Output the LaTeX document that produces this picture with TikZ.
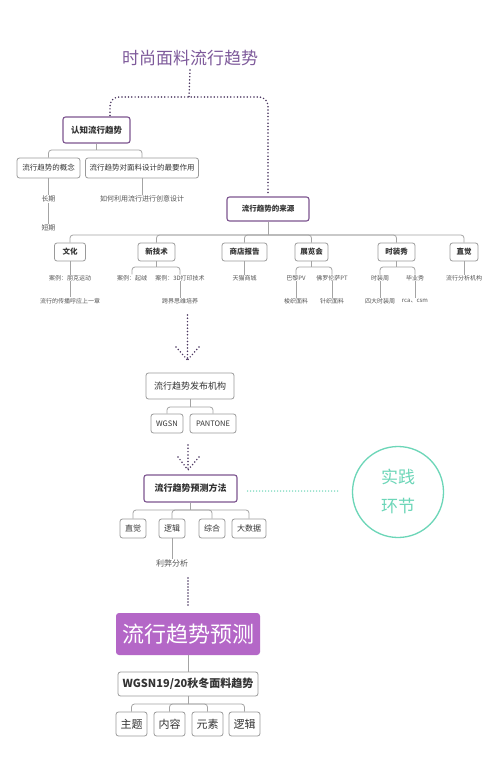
\documentclass[tikz,border=0pt]{standalone}
\usepackage{fontspec}
\setmainfont{Noto Sans CJK SC}
\definecolor{pur}{HTML}{7D5590}
\definecolor{titlec}{HTML}{7E5A9B}
\definecolor{dotc}{HTML}{4A3560}
\definecolor{tealc}{HTML}{6CD6B8}
\definecolor{boxc}{HTML}{9A9A9A}
\definecolor{linec}{HTML}{A4A4A4}
\definecolor{txt}{HTML}{333333}
\definecolor{subt}{HTML}{555555}
\definecolor{bigc}{HTML}{B467C7}
\tikzset{
 gbox/.style={draw=boxc, line width=0.8pt, rounded corners=2.5pt, inner sep=0pt, text=txt, font=\fontsize{7.5}{9}\selectfont},
 pbox/.style={gbox, draw=pur, line width=1.1pt},
 lbl/.style={inner sep=0.5pt, text=subt, font=\fontsize{6}{7}\selectfont},
 conn/.style={draw=linec, line width=0.8pt, rounded corners=3pt},
 dotl/.style={draw=dotc, line width=1.7pt, line cap=round, dash pattern=on 0pt off 3.3pt},
 tdot/.style={draw=tealc, line width=1.5pt, line cap=round, dash pattern=on 0pt off 3pt},
}
\begin{document}
\begin{tikzpicture}[x=1pt,y=-1pt]
\fill[white] (0,0) rectangle (497,763);
\useasboundingbox (0,0) rectangle (497,763);

% title
\node[text=titlec, font=\fontsize{17}{20}\selectfont, inner sep=0pt] (title) at (190,58) {时尚面料流行趋势};
\coordinate (j) at (189,97);

% first level
\node[pbox, minimum width=67pt, minimum height=26pt, font=\bfseries\fontsize{8.5}{10}\selectfont] (rz) at (96.5,130) {认知流行趋势};
\node[pbox, minimum width=82pt, minimum height=24pt, font=\bfseries\fontsize{7.5}{9}\selectfont] (src) at (268,209) {流行趋势的来源};

\draw[dotl] ([yshift=-4pt]title.south) -- (j);
\draw[dotl, rounded corners=9pt] ([xshift=13.5pt,yshift=1pt]rz.north) |- (j) -| ([yshift=1pt]src.north);

% 认知流行趋势 branch
\node[gbox, minimum width=63pt, minimum height=20pt] (gn) at (48.5,168) {流行趋势的概念};
\node[gbox, minimum width=113pt, minimum height=20pt] (zy) at (142,168) {流行趋势对面料设计的最要作用};
\draw[conn] (rz.south) -- (rz.south |- 0,150);
\draw[conn] (rz.south |- 0,150) -| (gn.north);
\draw[conn] (rz.south |- 0,150) -| (zy.north);

\node[lbl, font=\fontsize{7}{8}\selectfont] (cq) at (48.5,199) {长期};
\node[lbl, font=\fontsize{7}{8}\selectfont] (dq) at (48.5,228) {短期};
\node[lbl, font=\fontsize{7}{8}\selectfont] (ry) at (142,199) {如何利用流行进行创意设计};
\draw[conn] (gn.south) -- (cq.north);
\draw[conn] (cq.south) -- (dq.north);
\draw[conn] (zy.south) -- (ry.north);

% sources row
\tikzset{sbox/.style={gbox, minimum height=18pt, font=\bfseries\fontsize{7.5}{9}\selectfont}}
\node[sbox, minimum width=31pt] (wh) at (70,252) {文化};
\node[sbox, minimum width=37pt] (xjs) at (156.5,252) {新技术};
\node[sbox, minimum width=45pt] (sd) at (244.5,252) {商店报告};
\node[sbox, minimum width=33pt] (zl) at (311.5,252) {展览会};
\node[sbox, minimum width=37pt] (sz) at (396.5,252) {时装秀};
\node[sbox, minimum width=28pt] (zj) at (464,252) {直觉};
\draw[conn] (src.south) -- (src.south |- 0,235);
\foreach \c in {wh,xjs,sd,zl,sz,zj}{
  \draw[conn] (src.south |- 0,235) -| (\c.north);
}

% sub items
\node[lbl] (a1) at (70,278) {案例：朋克运动};
\node[lbl] (a2) at (70,301) {流行的传播呼应上一章};
\draw[conn] (wh.south) -- (a1.north);
\draw[conn] (a1.south) -- (a2.north);

\node[lbl] (b1) at (132,278) {案例：起绒};
\node[lbl] (b2) at (180,278) {案例：3D打印技术};
\node[lbl] (b3) at (180,301) {跨界思维培养};
\draw[conn] (xjs.south) -- (xjs.south |- 0,267);
\draw[conn] (xjs.south |- 0,267) -| (b1.north);
\draw[conn] (xjs.south |- 0,267) -| (b2.north);
\draw[conn] (b2.south) -- (b3.north);

\node[lbl] (c1) at (244.5,278) {天猫商城};
\draw[conn] (sd.south) -- (c1.north);

\node[lbl] (d1) at (296,278) {巴黎PV};
\node[lbl] (d2) at (332,278) {佛罗伦萨PT};
\node[lbl] (d3) at (296,301) {梭织面料};
\node[lbl] (d4) at (332,301) {针织面料};
\draw[conn] (zl.south) -- (zl.south |- 0,267);
\draw[conn] (zl.south |- 0,267) -| (d1.north);
\draw[conn] (zl.south |- 0,267) -| (d2.north);
\draw[conn] (d1.south) -- (d3.north);
\draw[conn] (d2.south) -- (d4.north);

\node[lbl] (e1) at (380,278) {时装周};
\node[lbl] (e2) at (415,278) {毕业秀};
\node[lbl] (e3) at (380,301) {四大时装周};
\node[lbl] (e4) at (415,301) {rca、csm};
\draw[conn] (sz.south) -- (sz.south |- 0,267);
\draw[conn] (sz.south |- 0,267) -| (e1.north);
\draw[conn] (sz.south |- 0,267) -| (e2.north);
\draw[conn] (e1.south) -- (e3.north);
\draw[conn] (e2.south) -- (e4.north);

\node[lbl] (f1) at (464,278) {流行分析机构};
\draw[conn] (zj.south) -- (f1.north);

% arrow 1
\coordinate (p1) at (187.5,315);
\coordinate (p2) at (187.5,360);
\coordinate (h1) at (176,347);
\coordinate (h2) at (199,347);
\draw[dotl] (p1) -- (p2);
\draw[dotl] (h1) -- (p2);
\draw[dotl] (h2) -- (p2);

% publishers
\node[gbox, minimum width=88pt, minimum height=26pt, font=\fontsize{9}{11}\selectfont] (fb) at (190,386) {流行趋势发布机构};
\node[gbox, minimum width=32pt, minimum height=19pt, font=\fontsize{7.5}{9}\selectfont] (wgsn) at (167,423.5) {WGSN};
\node[gbox, minimum width=46pt, minimum height=19pt, font=\fontsize{7.5}{9}\selectfont] (pt) at (213,423.5) {PANTONE};
\draw[conn] (fb.south) -- (fb.south |- 0,407);
\draw[conn] (fb.south |- 0,407) -| (wgsn.north);
\draw[conn] (fb.south |- 0,407) -| (pt.north);

% arrow 2
\coordinate (q1) at (188,445);
\coordinate (q2) at (188,470);
\coordinate (k1) at (178,457);
\coordinate (k2) at (199,457);
\draw[dotl] (q1) -- (q2);
\draw[dotl] (k1) -- (q2);
\draw[dotl] (k2) -- (q2);

% methods
\node[pbox, minimum width=93pt, minimum height=27pt, font=\bfseries\fontsize{9}{11}\selectfont] (fc) at (190.5,488.5) {流行趋势预测方法};
\node[draw=tealc, line width=1.3pt, circle, minimum size=91pt, inner sep=0pt] (sj) at (398,492) {};
\node[text=tealc, font=\fontsize{17}{20}\selectfont, inner sep=0pt] (sj1) at (398,477) {实践};
\node[text=tealc, font=\fontsize{17}{20}\selectfont, inner sep=0pt] (sj2) at (398,506) {环节};
\path (fc.east) ++(10,2.5) coordinate (t1);
\path (sj.west) ++(-12,-1) coordinate (t2);
\draw[tdot] (t1) -- (t2);

\tikzset{mbox/.style={gbox, minimum height=19pt, font=\fontsize{8}{10}\selectfont}}
\node[mbox, minimum width=26pt] (m1) at (133,528.5) {直觉};
\node[mbox, minimum width=26pt] (m2) at (172,528.5) {逻辑};
\node[mbox, minimum width=26pt] (m3) at (212,528.5) {综合};
\node[mbox, minimum width=34pt] (m4) at (249,528.5) {大数据};
\draw[conn] (fc.south) -- (fc.south |- 0,510);
\foreach \c in {m1,m2,m3,m4}{
  \draw[conn] (fc.south |- 0,510) -| (\c.north);
}
\node[lbl, font=\fontsize{8}{10}\selectfont] (lb) at (172,563) {利弊分析};
\draw[conn] (m2.south) -- (lb.north);

% dotted to big
\coordinate (r1) at (188,578);
\coordinate (r2) at (188,606);
\draw[dotl, dash pattern=on 0pt off 3pt] (r1) -- (r2);

% big box
\node[fill=bigc, rounded corners=3pt, minimum width=144pt, minimum height=42pt, inner sep=0pt, text=white, font=\fontsize{22}{26}\selectfont] (big) at (188,634) {流行趋势预测};
\node[gbox, minimum width=140pt, minimum height=24pt, font=\bfseries\fontsize{11}{13}\selectfont] (wg) at (188,684) {WGSN19/20秋冬面料趋势};
\draw[conn] (big.south) -- (wg.north);

\tikzset{cbox/.style={gbox, minimum width=31pt, minimum height=24pt, font=\fontsize{11}{13}\selectfont}}
\node[cbox] (n1) at (131.5,724) {主题};
\node[cbox] (n2) at (169.5,724) {内容};
\node[cbox] (n3) at (207.5,724) {元素};
\node[cbox] (n4) at (244.5,724) {逻辑};
\draw[conn] (wg.south) -- (wg.south |- 0,704);
\foreach \c in {n1,n2,n3,n4}{
  \draw[conn] (wg.south |- 0,704) -| (\c.north);
}
\end{tikzpicture}
\end{document}
